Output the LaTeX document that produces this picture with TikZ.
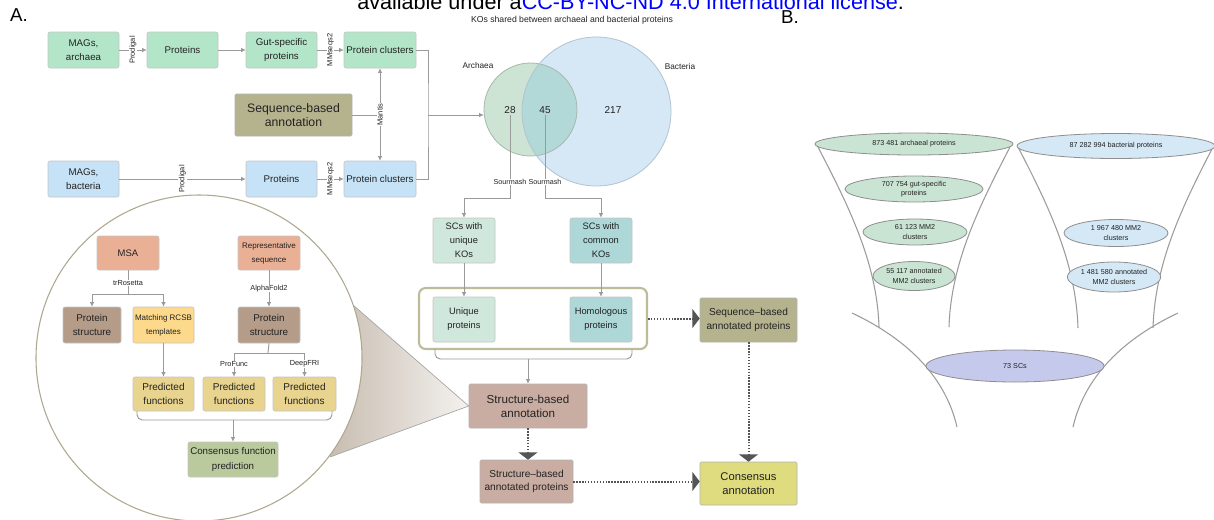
\documentclass[tikz,border=0pt]{standalone}
\usepackage{fontspec}
\setmainfont{Liberation Sans}
\usetikzlibrary{arrows.meta,calc,shapes.geometric}
\definecolor{archg}{HTML}{B3E6C8}
\definecolor{bactb}{HTML}{C6E2F7}
\definecolor{seqann}{HTML}{B5B38E}
\definecolor{scuc}{HTML}{D0E8DC}
\definecolor{sccc}{HTML}{AED7D7}
\definecolor{strann}{HTML}{C9ADA2}
\definecolor{consc}{HTML}{DEDC7E}
\definecolor{msac}{HTML}{E9B096}
\definecolor{pstr}{HTML}{B49C89}
\definecolor{rcsb}{HTML}{FCD98B}
\definecolor{pfc}{HTML}{E8D48F}
\definecolor{cfpc}{HTML}{BACA9D}
\definecolor{connc}{HTML}{9A9A9A}
\definecolor{dotc}{HTML}{555555}
\definecolor{grpline}{HTML}{BDBC98}
\definecolor{boxline}{HTML}{C4C4C4}
\definecolor{ellarch}{HTML}{CAE4D3}
\definecolor{ellbact}{HTML}{D4E8F6}
\definecolor{ellsc}{HTML}{C5C9EC}
\definecolor{ellline}{HTML}{8E8E8E}
\definecolor{func}{HTML}{9C9C9C}
\definecolor{lensline}{HTML}{ADA88F}
\definecolor{vennA}{HTML}{CDE4D5}
\definecolor{vennB}{HTML}{D6E8F5}
\definecolor{vennAB}{HTML}{B2D8D8}
\definecolor{vennAl}{HTML}{A5B9AC}
\definecolor{vennBl}{HTML}{B2C3CF}
\definecolor{txt}{HTML}{222222}
\definecolor{conel}{HTML}{C8BDB1}
\definecolor{coner}{HTML}{F4F2EF}
\newcommand\fz[2]{\fontsize{#1pt}{#2pt}\selectfont}
\newcommand\bx[7]{\pgfmathsetmacro\bxw{(#4-#2)*0.75}\pgfmathsetmacro\bxh{(#5-#3)*0.75}%
  \node[#6,minimum width=\bxw pt,minimum height=\bxh pt] (#1) at ({(#2+#4)/2},{(#3+#5)/2}) {#7};}
\newcommand\el[6]{\pgfmathsetmacro\bxw{#4*1.5}\pgfmathsetmacro\bxh{#5*1.5}%
  \node[ell,fill=#6,minimum width=\bxw pt,minimum height=\bxh pt] (#1) at (#2,#3) {\ellt};}
\tikzset{
  box/.style={draw=boxline,line width=0.4pt,rounded corners=1.5pt,inner sep=0pt,align=center,text=txt},
  plaque/.style={draw=black!30,line width=0.4pt,rounded corners=1pt,inner sep=0pt,align=center,text=txt},
  conn/.style={draw=connc,line width=0.7pt},
  arr/.style={conn,-{Latex[length=3.5pt,width=3.5pt]}},
  arrb/.style={conn,{Latex[length=3.5pt,width=3.5pt]}-{Latex[length=3.5pt,width=3.5pt]}},
  dotarr/.style={draw=dotc,line width=1.5pt,dash pattern=on 1.1pt off 1.1pt,-{Triangle[width=14pt,length=5.5pt]}},
  vlab/.style={rotate=90,fill=white,inner sep=0.4pt,font=\fz{5.6}{6.5},text=txt},
  hlab/.style={fill=white,inner sep=0.4pt,font=\fz{5.5}{6.5},text=txt},
  ell/.style={ellipse,draw=ellline,line width=0.6pt,inner sep=0pt,align=center,font=\fz{5.4}{7},text=txt},
  fun/.style={draw=func,line width=0.8pt},
}
\begin{document}
\begin{tikzpicture}[x=0.75pt,y=-0.75pt]
\useasboundingbox (0,0) rectangle (1214,519);
\fill[white] (0,0) rectangle (1214,519);

% header
\node[anchor=base west,inner sep=0,font=\fz{16.2}{18}] (wm) at (357,9.5) {available under a\textcolor{blue}{CC-BY-NC-ND 4.0 International license}.};
\node[font=\fz{14}{16}] (la) at (19,15) {A.};
\node[font=\fz{14}{16}] (lb) at (790,17) {B.};

% ---------- top pipeline ----------
\bx{ma}{48}{32}{119}{68}{box,fill=archg,font=\fz{7.3}{10.5}}{MAGs,\\archaea}
\bx{pa}{147}{32}{218}{68}{box,fill=archg,font=\fz{7.3}{10.5}}{Proteins}
\bx{ga}{246}{32}{317}{68}{box,fill=archg,font=\fz{7.3}{10.5}}{Gut-specific\\proteins}
\bx{ca}{344}{32}{416}{68}{box,fill=archg,font=\fz{7.3}{10.5}}{Protein clusters}
\bx{sa}{235}{94}{352}{136}{plaque,fill=seqann,font=\fz{9.2}{10.8}}{Sequence-based\\annotation}
\bx{mb}{48}{161}{119}{197}{box,fill=bactb,font=\fz{7.3}{10.5}}{MAGs,\\bacteria}
\bx{pb}{246}{161}{317}{197}{box,fill=bactb,font=\fz{7.3}{10.5}}{Proteins}
\bx{cb}{344}{161}{416}{197}{box,fill=bactb,font=\fz{7.3}{10.5}}{Protein clusters}

\draw[arr] (ma.east) -- node[vlab]{Prodigal} (pa.west);
\draw[arr] (pa.east) -- (ga.west);
\draw[arr] (ga.east) -- node[vlab]{MMseqs2} (ca.west);
\draw[conn] (sa.east) -- (ca.south |- sa.east);
\draw[arrb] (ca.south) -- node[vlab]{Mantis} (cb.north);
\draw[arr] (mb.east) -- node[vlab]{Prodigal} (pb.west);
\draw[arr] (pb.east) -- node[vlab]{MMseqs2} (cb.west);
\coordinate (jn) at (428,115);
\draw[conn] (ca.east) -| (jn) |- (cb.east);

% ---------- Venn ----------
\node[font=\fz{6.5}{8},text=txt] (vt) at (572,20) {KOs shared between archaeal and bacterial proteins};
\node[circle,fill=vennA,minimum size=69.75pt,inner sep=0] (arch) at (530.5,109.5) {};
\node[circle,fill=vennB,minimum size=111.75pt,inner sep=0] (bact) at (596.5,111.5) {};
\begin{scope}
\clip (530.5,109.5) circle (34.875pt);
\fill[vennAB] (596.5,111.5) circle (55.875pt);
\end{scope}
\draw[vennAl,line width=0.6pt] (530.5,109.5) circle (34.875pt);
\draw[vennBl,line width=0.6pt] (596.5,111.5) circle (55.875pt);
\node[font=\fz{6.2}{7},text=txt] (lA) at (478,66) {Archaea};
\node[font=\fz{6.2}{7},text=txt] (lB) at (680,67) {Bacteria};
\node[font=\fz{7.5}{9},text=txt,inner sep=1pt] (n28) at (510,110) {28};
\node[font=\fz{7.5}{9},text=txt,inner sep=1pt] (n45) at (545,110) {45};
\node[font=\fz{7.5}{9},text=txt,inner sep=1pt] (n217) at (613,110) {217};
\draw[arr] (jn) -- (jn -| arch.west);

% ---------- middle column ----------
\bx{scu}{433}{218}{495}{263}{box,fill=scuc,font=\fz{7}{10.5}}{SCs with\\unique\\KOs}
\bx{scc}{570}{218}{632}{263}{box,fill=sccc,font=\fz{7}{10.5}}{SCs with\\common\\KOs}
\coordinate (s1) at (510,198);
\coordinate (s2) at (545,198);
\draw[arr] (n28.south) -- (s1) -| (scu.north);
\draw[arr] (n45.south) -- (s2) -| (scc.north);
\node[hlab,font=\fz{5.4}{6.5}] (sm1) at (510,182) {Sourmash};
\node[hlab,font=\fz{5.4}{6.5}] (sm2) at (545,182) {Sourmash};

\bx{grp}{419}{288}{647}{349}{draw=grpline,line width=1.6pt,rounded corners=5pt,inner sep=0}{}
\bx{up}{433}{297}{495}{342}{box,fill=scuc,font=\fz{7}{10.5}}{Unique\\proteins}
\bx{hp}{570}{297}{632}{342}{box,fill=sccc,font=\fz{7}{10.5}}{Homologous\\proteins}
\draw[arr] (scu.south) -- (up.north);
\draw[arr] (scc.south) -- (hp.north);
\draw[conn,rounded corners=4pt] (435,349) -- (435,359) -- (632,359) -- (632,349);
\coordinate (brk) at (528,359);

\bx{sanno}{469}{384}{587}{428}{plaque,fill=strann,font=\fz{8.7}{10.5}}{Structure-based\\annotation}
\bx{sap}{480}{460}{573}{503}{plaque,fill=strann,font=\fz{7.6}{10}}{Structure–based\\annotated proteins}
\bx{seqap}{700}{298}{797}{342}{plaque,fill=seqann,font=\fz{7.6}{10}}{Sequence–based\\annotated proteins}
\bx{consa}{700}{462}{797}{505}{plaque,fill=consc,font=\fz{8.4}{11}}{Consensus\\annotation}
\draw[arr] (brk) -- (brk |- sanno.north);

\draw[dotarr] (grp.east) -- (grp.east -| seqap.west);
\draw[dotarr] (seqap.south) -- (consa.north);
\draw[dotarr] (sanno.south) -- (sanno.south |- sap.north);
\draw[dotarr] (sap.east) -- (sap.east -| consa.west);

% ---------- zoom lens ----------
\shade[left color=conel,right color=coner] (sanno.west) -- (353,305) -- (335,380) -- (330,457) -- cycle;
\draw[connc!90,line width=0.5pt] (353,305) -- (sanno.west) -- (330,457);
\node[circle,draw=lensline,line width=0.8pt,fill=white,minimum size=244.5pt,inner sep=0] (lens) at (199,358) {};

\bx{msa}{97}{236}{159}{270}{box,fill=msac,font=\fz{7.1}{9}}{MSA}
\bx{rep}{238}{236}{300}{270}{box,fill=msac,font=\fz{6}{10.5}}{Representative\\sequence}
\bx{ps1}{63}{307}{121}{343}{box,fill=pstr,font=\fz{7.4}{10.7}}{Protein\\structure}
\bx{mrcsb}{133}{307}{194}{343}{box,fill=rcsb,font=\fz{6}{10.5}}{Matching RCSB\\templates}
\bx{ps2}{238}{307}{300}{343}{box,fill=pstr,font=\fz{7.4}{10.7}}{Protein\\structure}
\bx{pf1}{133}{377}{194}{411}{box,fill=pfc,font=\fz{7.5}{10.7}}{Predicted\\functions}
\bx{pf2}{203}{377}{265}{411}{box,fill=pfc,font=\fz{7.5}{10.7}}{Predicted\\functions}
\bx{pf3}{273}{377}{336}{411}{box,fill=pfc,font=\fz{7.5}{10.7}}{Predicted\\functions}
\bx{cfp}{188}{442}{278}{477}{box,fill=cfpc,font=\fz{7.3}{10.7}}{Consensus function\\prediction}

\coordinate (tr) at (128,294);
\draw[conn] (msa.south) -- (tr);
\draw[arr] (tr) -| (ps1.north);
\draw[arr] (tr) -| (mrcsb.north);
\node[hlab] (trl) at (128,283) {trRosetta};
\draw[arr] (rep.south) -- node[hlab]{AlphaFold2} (ps2.north);
\coordinate (pj) at (268,353);
\draw[conn] (ps2.south) -- (pj);
\draw[arr] (pj) -| (pf2.north);
\draw[arr] (pj) -| (pf3.north);
\node[hlab] (pfl) at (234,364) {ProFunc};
\node[hlab] (dfl) at (304.5,364) {DeepFRI};
\draw[arr] (mrcsb.south) -- (pf1.north);
\draw[conn,rounded corners=4pt] (137,411) -- (137,420) -- (332,420) -- (332,411);
\coordinate (cj) at (233,420);
\draw[arr] (cj) -- (cfp.north);

% ---------- funnel (B) ----------
\draw[fun] (818,147) .. controls (848,205) and (877,262) .. (879,327);
\draw[fun] (1010,147) .. controls (980,205) and (951,262) .. (949,327);
\draw[fun] (1018,147) .. controls (1048,205) and (1076,262) .. (1078,328);
\draw[fun] (1213,147) .. controls (1183,205) and (1155,262) .. (1153,328);
\draw[fun] (852,313) .. controls (905,338) and (945,375) .. (957,427);
\draw[fun] (1178,313) .. controls (1125,338) and (1085,375) .. (1073,427);

\def\ellt{873 481 archaeal proteins}\el{e1}{914}{144}{99}{11}{ellarch}
\def\ellt{87 282 994 bacterial proteins}\el{e2}{1116}{146}{99}{12.5}{ellbact}
\def\ellt{707 754 gut-specific\\proteins}\el{e3}{914}{189}{69}{13}{ellarch}
\def\ellt{61 123 MM2\\clusters}\el{e4}{915}{232}{52}{13}{ellarch}
\def\ellt{55 117 annotated\\MM2 clusters}\el{e5}{914}{276}{41}{14.5}{ellarch}
\def\ellt{1 967 480 MM2\\clusters}\el{e6}{1116}{233}{52}{13.5}{ellbact}
\def\ellt{1 481 580 annotated\\MM2 clusters}\el{e7}{1114}{277}{41}{15}{ellbact}
\def\ellt{73 SCs}\el{e8}{1015}{366}{89}{16}{ellsc}
\end{tikzpicture}
\end{document}
